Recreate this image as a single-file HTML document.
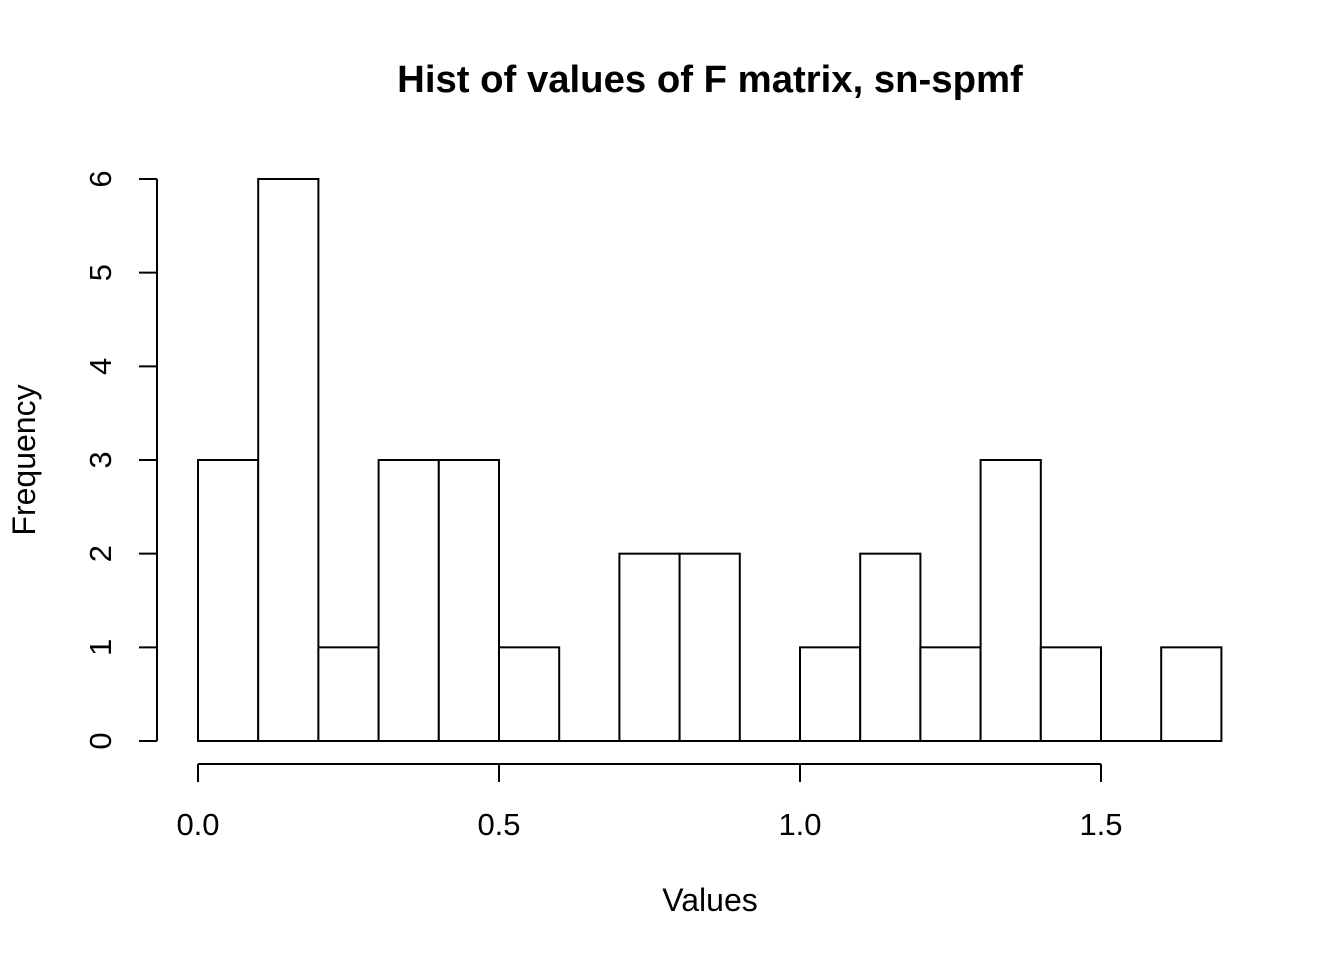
<!DOCTYPE html>
<html><head><meta charset="utf-8"><style>
body{margin:0;background:#fff}
svg{display:block;font-family:"Liberation Sans",Arial,sans-serif}
</style></head><body>
<svg id="chart" width="1344" height="960" viewBox="0 0 1344 960">
<rect width="1344" height="960" fill="#fff"/>
<text x="710" y="92" text-anchor="middle" font-size="38.3" font-weight="bold">Hist of values of F matrix, sn-spmf</text>
<text x="710" y="911" text-anchor="middle" font-size="32">Values</text>
<text transform="translate(35,460) rotate(-90)" text-anchor="middle" font-size="32">Frequency</text>
<g id="bars"></g>
<g id="xaxis"></g>
<g id="yaxis"></g>
</svg>
<script>
const binStart = 0.0;
const binWidth = 0.1;
const counts = [3,6,1,3,3,1,0,2,2,0,1,2,1,3,1,0,1];
const xTicks = [0.0,0.5,1.0,1.5];
const xTickLabels = ["0.0","0.5","1.0","1.5"];
const yTicks = [0,1,2,3,4,5,6];
const yTickLabels = ["0","1","2","3","4","5","6"];

const NS="http://www.w3.org/2000/svg";
const xs=v=>198+v*602;
const ys=v=>741-v*(562/6);
function mk(tag,attrs,parent){const e=document.createElementNS(NS,tag);for(const k in attrs)e.setAttribute(k,attrs[k]);parent.appendChild(e);return e;}
const bars=document.getElementById('bars');
counts.forEach((c,i)=>{
  const x0=xs(binStart+i*binWidth),x1=xs(binStart+(i+1)*binWidth);
  const r=mk('rect',{x:x0,y:ys(c),width:x1-x0,height:ys(0)-ys(c),fill:'#fff',stroke:'#000','stroke-width':2},bars);
  
  
});
const base=mk('line',{x1:xs(binStart),x2:xs(binStart+counts.length*binWidth),y1:ys(0),y2:ys(0),stroke:'#000','stroke-width':2},bars);


const xa=document.getElementById('xaxis');
mk('line',{x1:xs(xTicks[0]),x2:xs(xTicks[xTicks.length-1]),y1:764,y2:764,stroke:'#000','stroke-width':2},xa);
xTicks.forEach((t,i)=>{
  mk('line',{x1:xs(t),x2:xs(t),y1:764,y2:782,stroke:'#000','stroke-width':2},xa);
  const tx=mk('text',{x:xs(t),y:835,'text-anchor':'middle','font-size':31},xa);
  tx.textContent=xTickLabels[i];
  
  
});
const ya=document.getElementById('yaxis');
mk('line',{x1:157,x2:157,y1:ys(yTicks[0]),y2:ys(yTicks[yTicks.length-1]),stroke:'#000','stroke-width':2},ya);
yTicks.forEach((t,i)=>{
  mk('line',{x1:139,x2:157,y1:ys(t),y2:ys(t),stroke:'#000','stroke-width':2},ya);
  const tx=mk('text',{transform:`translate(111,${ys(t)}) rotate(-90)`,'text-anchor':'middle','font-size':31},ya);
  tx.textContent=yTickLabels[i];
  
  
});
</script>
</body></html>
